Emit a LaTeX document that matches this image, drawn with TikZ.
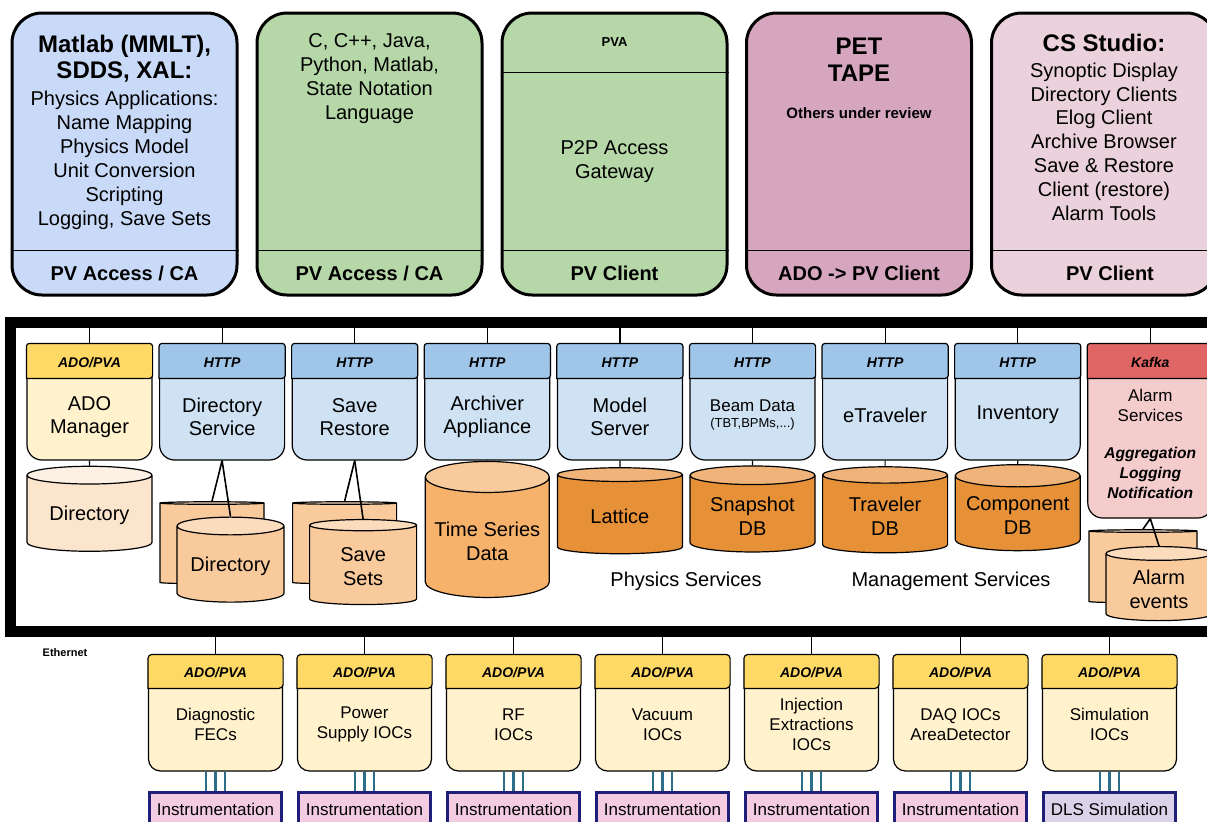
\documentclass[tikz,border=0pt]{standalone}
\usepackage{fontspec}
\setmainfont{Liberation Sans}
\usetikzlibrary{shapes.geometric}

\definecolor{clientblue}{HTML}{C9DAF8}
\definecolor{clientgreen}{HTML}{B6D7A8}
\definecolor{clientmauve}{HTML}{D5A6BD}
\definecolor{clientpink}{HTML}{EAD1DC}
\definecolor{httphead}{HTML}{9FC5E8}
\definecolor{httpbody}{HTML}{CFE2F3}
\definecolor{adohead}{HTML}{FFD966}
\definecolor{adobody}{HTML}{FFF2CC}
\definecolor{kafkahead}{HTML}{E06666}
\definecolor{kafkabody}{HTML}{F4CCCC}
\definecolor{dbpale}{HTML}{FCE5CD}
\definecolor{dbpaletop}{HTML}{FDF0E4}
\definecolor{dblight}{HTML}{F9CB9C}
\definecolor{dblighttop}{HTML}{FBDCBD}
\definecolor{dbmid}{HTML}{F6B26B}
\definecolor{dbdark}{HTML}{E69138}
\definecolor{dbdarktop}{HTML}{F0B47A}
\definecolor{wire}{HTML}{2B6E8C}
\definecolor{instrline}{HTML}{1F1F7A}
\definecolor{instrfill}{HTML}{F4CCE2}
\definecolor{simfill}{HTML}{D9D2E9}

\tikzset{
  client/.style={draw, line width=1.5pt, rounded corners=15pt, minimum width=112.5pt, minimum height=141pt},
  svc/.style={draw, line width=0.6pt, rounded corners=7.5pt, minimum width=62.5pt, minimum height=58pt},
  ioc/.style={draw, line width=0.6pt, rounded corners=6pt, minimum width=67pt, minimum height=58pt, fill=adobody},
  instr/.style={draw=instrline, line width=1.5pt, minimum width=66pt, minimum height=17pt, font=\fontsize{8.5}{10}\selectfont},
  db/.style={cylinder, shape border rotate=90, draw, line width=0.6pt, aspect=0.19, cylinder uses custom fill,
    yshift=-3pt, align=center, font=\fontsize{10}{12}\selectfont},
  head/.style={font=\fontsize{7}{8}\selectfont\bfseries\itshape},
  bigtitle/.style={align=center, font=\fontsize{12}{13}\selectfont\bfseries},
  clienttext/.style={align=center, font=\fontsize{10}{12}\selectfont},
  foot/.style={font=\fontsize{10}{12}\selectfont\bfseries},
  svctext/.style={align=center, font=\fontsize{10}{11.5}\selectfont},
  ioctext/.style={align=center, font=\fontsize{8.5}{10}\selectfont},
}

\begin{document}
\begin{tikzpicture}[x=0.5pt, y=-0.5pt]
  \useasboundingbox (0,0) rectangle (1207,821);
  \clip (0,0) rectangle (1207,821);

  % clients
  \foreach \nm/\x/\col in {matlab/124.5/clientblue, langs/369.5/clientgreen, gw/614.5/clientgreen, pet/859/clientmauve, css/1104/clientpink}{
    \node[client, fill=\col] (\nm) at (\x,154) {};
    \draw[line width=0.6pt] ([yshift=23pt]\nm.south west) -- ([yshift=23pt]\nm.south east);
  }
  \draw[line width=0.6pt] ([yshift=-30.5pt]gw.north west) -- ([yshift=-30.5pt]gw.north east);

  \node[bigtitle] (matlab-t) at (124.5,59) {Matlab (MMLT),\\SDDS, XAL:};
  \node[clienttext] (matlab-x) at (124.5,160) {Physics Applications:\\Name Mapping\\Physics Model\\Unit Conversion\\Scripting\\Logging, Save Sets};
  \node[foot] (matlab-f) at (124.5,273) {PV Access / CA};
  \node[clienttext] (langs-x) at (369.5,79) {C, C++, Java,\\Python, Matlab,\\State Notation\\Language};
  \node[foot] (langs-f) at (369.5,273) {PV Access / CA};
  \node[font=\fontsize{6.5}{8}\selectfont\bfseries] (gw-t) at (614.5,42) {PVA};
  \node[clienttext] (gw-x) at (614.5,162) {P2P Access\\Gateway};
  \node[foot] (gw-f) at (614.5,273) {PV Client};
  \node[bigtitle, font=\fontsize{12}{13.5}\selectfont\bfseries] (pet-t) at (859,59.5) {PET\\TAPE};
  \node[font=\fontsize{7.5}{9}\selectfont\bfseries] (pet-x) at (859,113) {Others under review};
  \node[foot] (pet-f) at (859,273) {ADO -> PV Client};
  \node[bigtitle] (css-t) at (1104,43) {CS Studio:};
  \node[clienttext, font=\fontsize{10}{11.9}\selectfont] (css-x) at (1104,141.5) {Synoptic Display\\Directory Clients\\Elog Client\\Archive Browser\\Save \& Restore\\Client (restore)\\Alarm Tools};
  \node[foot] (css-f) at (1110,273) {PV Client};

  % services
  \coordinate (lan) at (10.5,322);
  \coordinate (field) at (10.5,631.5);

  \node[svc, fill=adobody] (ado) at (89.5,402) {};
  \draw[fill=adohead, line width=0.6pt] ([yshift=-17.5pt]ado.north west) [rounded corners=1.5pt] -- (ado.north west) -- (ado.north east) -- ([yshift=-17.5pt]ado.north east) [sharp corners] -- cycle;
  \node[head] (ado-hd) at ([yshift=-9.5pt]ado.north) {ADO/PVA};
  \draw[line width=0.6pt] (ado.north) -- (ado.north |- lan);

  \foreach \nm/\x in {dirsvc/222.1, saveres/354.7, archiver/487.3, model/619.9, beam/752.5, etrav/885.1, invent/1017.7}{
    \node[svc, fill=httpbody] (\nm) at (\x,402) {};
    \draw[fill=httphead, line width=0.6pt] ([yshift=-17.5pt]\nm.north west) [rounded corners=1.5pt] -- (\nm.north west) -- (\nm.north east) -- ([yshift=-17.5pt]\nm.north east) [sharp corners] -- cycle;
    \node[head] (\nm-hd) at ([yshift=-9.5pt]\nm.north) {HTTP};
    \draw[line width=0.6pt] (\nm.north) -- (\nm.north |- lan);
  }

  \node[svc, fill=kafkabody, minimum height=87pt] (alarm) at (1150.3,431) {};
  \draw[fill=kafkahead, line width=0.6pt] ([yshift=-17.5pt]alarm.north west) [rounded corners=1.5pt] -- (alarm.north west) -- (alarm.north east) -- ([yshift=-17.5pt]alarm.north east) [sharp corners] -- cycle;
  \node[head] (alarm-hd) at ([yshift=-9.5pt]alarm.north) {Kafka};
  \draw[line width=0.6pt] (alarm.north) -- (alarm.north |- lan);

  \node[svctext] (ado-x) at (89.5,417) {ADO\\Manager};
  \node[svctext] (dirsvc-x) at (222.1,417) {Directory\\Service};
  \node[svctext] (saveres-x) at (354.7,417) {Save\\Restore};
  \node[svctext] (archiver-x) at (487.3,417) {Archiver\\Appliance};
  \node[svctext] (model-x) at (619.9,417) {Model\\Server};
  \node[font=\fontsize{8.5}{10}\selectfont] (beam-x) at (752.5,406) {Beam Data};
  \node[font=\fontsize{6.5}{8}\selectfont] (beam-s) at (752.5,424) {(TBT,BPMs,...)};
  \node[svctext] (etrav-x) at (885.1,415) {eTraveler};
  \node[svctext] (invent-x) at (1017.7,415) {Inventory};
  \node[align=center, font=\fontsize{8.5}{10}\selectfont] (alarm-x) at (1150.3,405) {Alarm\\Services};
  \node[align=center, font=\fontsize{7.8}{9.8}\selectfont\bfseries\itshape] (alarm-s) at (1150.3,473) {Aggregation\\Logging\\Notification};

  % databases
  \node[db, cylinder body fill=dbpale, cylinder end fill=dbpaletop, minimum width=62.5pt, minimum height=42.5pt] (adodb) at (89.5,509.5) {Directory};
  \draw[line width=0.6pt] (ado.south) -- (adodb.north);

  \node[db, cylinder body fill=dblight, cylinder end fill=dblighttop, minimum width=52pt, minimum height=41pt] (dirback) at (212,538) {};
  \draw[line width=0.8pt] (dirsvc.south) -- (dirback.north);
  \node[db, cylinder body fill=dblight, cylinder end fill=dblighttop, minimum width=53.5pt, minimum height=42.5pt] (dirfront) at (230.5,560.5) {Directory};
  \draw[line width=0.8pt] (dirsvc.south) -- (dirfront.north);

  \node[db, cylinder body fill=dblight, cylinder end fill=dblighttop, minimum width=52pt, minimum height=41pt] (saveback) at (344.6,538) {};
  \draw[line width=0.8pt] (saveres.south) -- (saveback.north);
  \node[db, cylinder body fill=dblight, cylinder end fill=dblighttop, minimum width=53.5pt, minimum height=42.5pt] (savefront) at (363.1,560.5) {Save\\Sets};
  \draw[line width=0.8pt] (saveres.south) -- (savefront.north);

  \node[db, aspect=0.26, cylinder body fill=dbmid, cylinder end fill=dblight, minimum width=62pt, minimum height=68pt] (tsdb) at (487.3,535) {Time Series\\Data};
  \draw[line width=0.6pt] (archiver.south) -- (tsdb.north);

  \foreach \nm/\svcnm/\x/\txt in {latdb/model/619.9/Lattice, snapdb/beam/752.5/{Snapshot\\DB}, travdb/etrav/885.1/{Traveler\\DB}, compdb/invent/1017.7/{Component\\DB}}{
    \node[db, cylinder body fill=dbdark, cylinder end fill=dbdarktop, minimum width=62.5pt, minimum height=43pt] (\nm) at (\x,510) {\txt};
    \draw[line width=0.6pt] (\svcnm.south) -- (\nm.north);
  }

  \node[db, cylinder body fill=dblight, cylinder end fill=dblighttop, minimum width=54pt, minimum height=36.5pt] (alarmback) at (1143,561.5) {};
  \draw[line width=0.8pt] (alarm.south) -- (alarmback.north);
  \node[db, cylinder body fill=dblight, cylinder end fill=dblighttop, minimum width=53pt, minimum height=37pt] (alarmfront) at (1159,583) {Alarm\\events};
  \draw[line width=0.8pt] (alarm.south) -- (alarmfront.north);

  \node[svctext] (physlbl) at (686,581) {Physics Services};
  \node[svctext] (mgmtlbl) at (951,581) {Management Services};

  % field layer
  \foreach \nm/\i/\txt/\lbl/\fc in {diag/0/{Diagnostic\\FECs}/Instrumentation/instrfill,
      psu/1/{Power\\Supply IOCs}/Instrumentation/instrfill,
      rf/2/{RF\\IOCs}/Instrumentation/instrfill,
      vac/3/{Vacuum\\IOCs}/Instrumentation/instrfill,
      inj/4/{Injection\\Extractions\\IOCs}/Instrumentation/instrfill,
      daq/5/{DAQ IOCs\\AreaDetector}/Instrumentation/instrfill,
      sim/6/{Simulation\\IOCs}/DLS Simulation/simfill}{
    \node[ioc] (\nm) at (215.5+149*\i,713) {};
    \draw[fill=adohead, line width=0.6pt] ([yshift=-17pt]\nm.north west) [rounded corners=2pt] -- (\nm.north west) -- (\nm.north east) -- ([yshift=-17pt]\nm.north east) [sharp corners] -- cycle;
    \node[head] (\nm-hd) at ([yshift=-9pt]\nm.north) {ADO/PVA};
    \node[ioctext] (\nm-x) at (215.5+149*\i,724.5) {\txt};
    \draw[line width=0.6pt] (\nm.north) -- (\nm.north |- field);
    \node[instr, fill=\fc] (\nm-in) at (215.5+149*\i,809.5) {\lbl};
    \foreach \dx in {-4.75,0,4.75}
      \draw[wire, line width=1.1pt] ([xshift=\dx pt]\nm.south) -- ([xshift=\dx pt]\nm-in.north);
  }

  \draw[line width=5.5pt] (lan) rectangle (1240,631.5);
  \node[font=\fontsize{5.5}{6}\selectfont\bfseries] (eth) at (65,653) {Ethernet};
\end{tikzpicture}
\end{document}
